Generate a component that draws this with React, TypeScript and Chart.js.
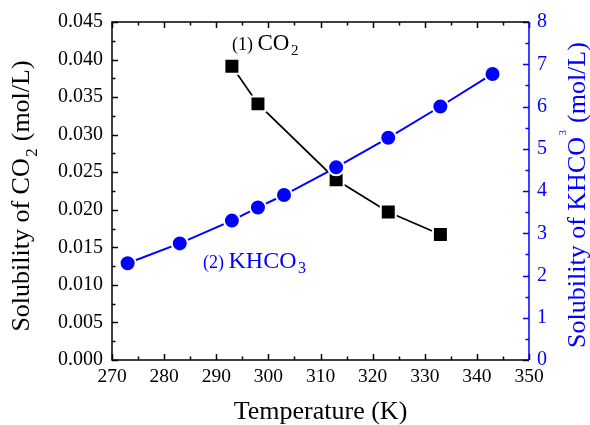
import React, { useEffect, useRef } from "react";
import { Chart, registerables } from "chart.js";

Chart.register(...registerables);

const co2Temps = [293, 298, 313, 323, 333];
const co2Solubility = [0.0391, 0.0341, 0.024, 0.0197, 0.0167];
const khco3Temps = [273, 283, 293, 298, 303, 313, 323, 333, 343];
const khco3Solubility = [2.29, 2.76, 3.3, 3.61, 3.905, 4.56, 5.26, 6.0, 6.77];

const xTitle = "Temperature (K)";
// [text, kind, size]: kind 0 normal, 1 subscript, 2 raised
const yLeftTitle = [["Solubility of CO", 0, 26], ["2", 1, 17], [" (mol/L)", 0, 26]];
const yRightTitle = [["Solubility of KHCO", 0, 26], ["3", 2, 11], [" (mol/L)", 0, 26]];
const label1 = [["(1) ", 0, 18], ["CO", 0, 23], ["2", 1, 15]];
const label2 = [["(2) ", 0, 18], ["KHCO", 0, 24], ["3", 1, 16]];

const BLUE = "#0000ff";
const FONT = "'Liberation Serif', 'Times New Roman', serif";

type Part = [string, number, number];

function drawRich(ctx: CanvasRenderingContext2D, parts: Part[], x: number, y: number, color: string, center: boolean) {
  ctx.save();
  ctx.fillStyle = color;
  ctx.textBaseline = "alphabetic";
  ctx.textAlign = "left";
  const widths = parts.map(([t, k, s]) => {
    ctx.font = `${s}px ${FONT}`;
    return ctx.measureText(t).width + (k ? 2 : 0);
  });
  const total = widths.reduce((a, b) => a + b, 0);
  let cx = center ? x - total / 2 : x;
  const base = parts[0][2];
  parts.forEach(([t, k, s], i) => {
    ctx.font = `${s}px ${FONT}`;
    let dy = 0;
    if (k === 1) dy = base * 0.3;
    if (k === 2) dy = -base * 0.72;
    ctx.fillText(t, cx + (k ? 1.5 : 0), y + dy);
    cx += widths[i];
  });
  ctx.restore();
}

const framePlugin = {
  id: "frame",
  afterDraw(chart: any) {
    const ctx: CanvasRenderingContext2D = chart.ctx;
    const { left, right, top, bottom } = chart.chartArea;
    const xs = chart.scales.x;
    const ys = chart.scales.y;
    const y1 = chart.scales.y1;
    ctx.save();
    ctx.lineWidth = 1.5;
    ctx.lineCap = "butt";
    ctx.strokeStyle = "#000";
    ctx.beginPath();
    for (let v = 270; v <= 350; v += 5) {
      const px = Math.round(xs.getPixelForValue(v)) + 0.5;
      const len = v % 10 === 0 ? 6 : 3.5;
      ctx.moveTo(px, bottom);
      ctx.lineTo(px, bottom - len);
      ctx.moveTo(px, top);
      ctx.lineTo(px, top + len);
    }
    for (let i = 0; i <= 18; i++) {
      const v = i * 0.0025;
      const py = Math.round(ys.getPixelForValue(v)) + 0.5;
      const len = i % 2 === 0 ? 6 : 3.5;
      ctx.moveTo(left, py);
      ctx.lineTo(left + len, py);
    }
    ctx.stroke();
    ctx.strokeStyle = BLUE;
    ctx.beginPath();
    for (let i = 0; i <= 16; i++) {
      const v = i * 0.5;
      const py = Math.round(y1.getPixelForValue(v)) + 0.5;
      const len = i % 2 === 0 ? 6 : 3.5;
      ctx.moveTo(right, py);
      ctx.lineTo(right - len, py);
    }
    ctx.stroke();
    ctx.strokeStyle = "#000";
    ctx.beginPath();
    ctx.moveTo(right, top);
    ctx.lineTo(left, top);
    ctx.lineTo(left, bottom);
    ctx.lineTo(right, bottom);
    ctx.stroke();
    ctx.strokeStyle = BLUE;
    ctx.beginPath();
    ctx.moveTo(right, top);
    ctx.lineTo(right, bottom);
    ctx.stroke();
    ctx.restore();

    ctx.save();
    ctx.font = `26px ${FONT}`;
    ctx.fillStyle = "#000";
    ctx.textAlign = "center";
    ctx.textBaseline = "alphabetic";
    ctx.fillText(xTitle, (left + right) / 2, 419);
    ctx.restore();

    ctx.save();
    ctx.translate(29, 196);
    ctx.rotate(-Math.PI / 2);
    drawRich(ctx, yLeftTitle as Part[], 0, 0, "#000", true);
    ctx.restore();

    ctx.save();
    ctx.translate(585, 195);
    ctx.rotate(-Math.PI / 2);
    drawRich(ctx, yRightTitle as Part[], 0, 0, BLUE, true);
    ctx.restore();

    drawRich(ctx, label1 as Part[], 232, 50, "#000", false);
    drawRich(ctx, label2 as Part[], 203, 268, BLUE, false);
  },
};

export default function App() {
  const ref = useRef<HTMLCanvasElement>(null);
  useEffect(() => {
    if (!ref.current) return;
    const chart = new Chart(ref.current, {
      type: "line",
      data: {
        datasets: [
          {
            label: "KHCO3",
            data: khco3Temps.map((t, i) => ({ x: t, y: khco3Solubility[i] })),
            yAxisID: "y1",
            borderColor: BLUE,
            borderWidth: 2,
            backgroundColor: BLUE,
            pointStyle: "circle",
            pointRadius: 8,
            pointBorderWidth: 2,
            pointBorderColor: "#fff",
            pointBackgroundColor: BLUE,
            tension: 0,
            order: 0,
          },
          {
            label: "CO2",
            data: co2Temps.map((t, i) => ({ x: t, y: co2Solubility[i] })),
            yAxisID: "y",
            borderColor: "#000",
            borderWidth: 1.7,
            backgroundColor: "#000",
            pointStyle: "rect",
            pointRadius: 10.6,
            pointBorderWidth: 2,
            pointBorderColor: "#fff",
            pointBackgroundColor: "#000",
            tension: 0,
            order: 1,
          },
        ],
      },
      options: {
        responsive: false,
        animation: false,
        layout: { padding: { top: 22, left: 0, right: 0, bottom: 0 } },
        plugins: { legend: { display: false }, tooltip: { enabled: false } },
        scales: {
          x: {
            type: "linear",
            min: 270,
            max: 350,
            grid: { display: false, drawTicks: false },
            border: { display: false },
            ticks: {
              stepSize: 10,
              padding: 5,
              color: "#000",
              font: { family: FONT, size: 19.5 },
            },
            afterFit: (s: any) => {
              s.height = 65;
            },
          },
          y: {
            type: "linear",
            position: "left",
            min: 0,
            max: 0.045,
            grid: { display: false, drawTicks: false },
            border: { display: false },
            ticks: {
              stepSize: 0.005,
              padding: 9,
              color: "#000",
              font: { family: FONT, size: 20 },
              callback: (v: any) => Number(v).toFixed(3),
            },
            afterFit: (s: any) => {
              s.width = 112;
            },
          },
          y1: {
            type: "linear",
            position: "right",
            min: 0,
            max: 8,
            grid: { display: false, drawTicks: false },
            border: { display: false },
            ticks: {
              stepSize: 1,
              padding: 8,
              color: BLUE,
              font: { family: FONT, size: 20 },
            },
            afterFit: (s: any) => {
              s.width = 61;
            },
          },
        },
      },
      plugins: [framePlugin],
    });
    return () => chart.destroy();
  }, []);
  return (
    <div style={{ position: "absolute", left: 0, top: 0, width: 590, height: 425, background: "#fff" }}>
      <canvas ref={ref} width={590} height={425} />
    </div>
  );
}
